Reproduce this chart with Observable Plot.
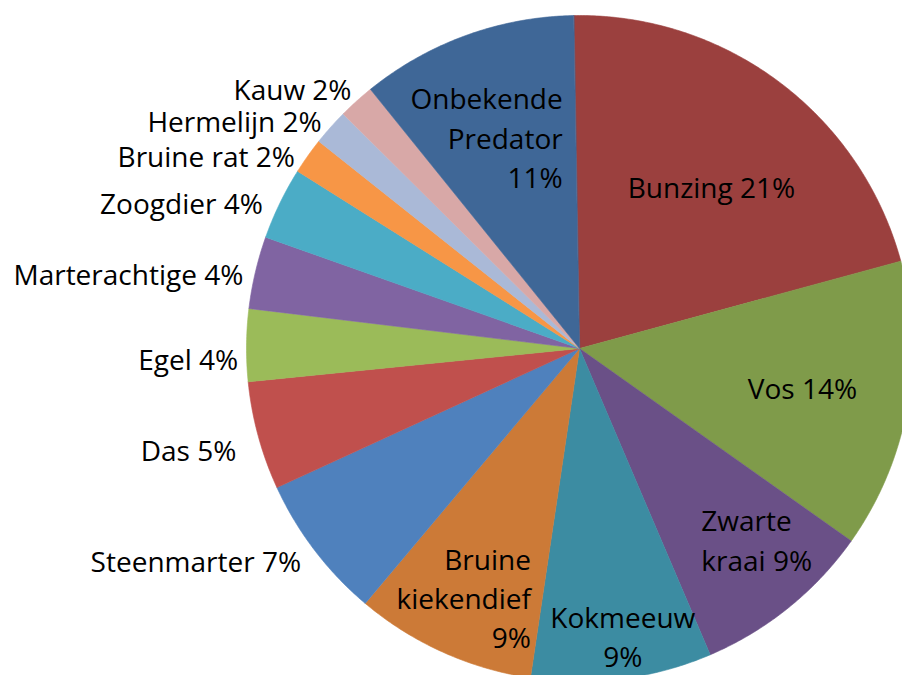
<!DOCTYPE html>
<html><head><meta charset="utf-8">
<script src="https://cdn.jsdelivr.net/npm/d3@7"></script>
<script src="https://cdn.jsdelivr.net/npm/@observablehq/plot@0.6"></script>
<style>html,body{margin:0;padding:0;background:#fff;overflow:hidden}svg{overflow:hidden;display:block}</style>
</head><body><div id="chart"></div>
<script>
// Data (clockwise from 12 o'clock)
const categories = ["Bunzing","Vos","Zwarte kraai","Kokmeeuw","Bruine kiekendief","Steenmarter","Das","Egel","Marterachtige","Zoogdier","Bruine rat","Hermelijn","Kauw","Onbekende Predator"];
const counts = [12,8,5,5,5,4,3,2,2,2,1,1,1,6];
const colors = ["#9B403E","#7F9B4A","#6A5087","#3C8CA2","#CC7A37","#4F81BD","#C0504D","#9BBB59","#8064A2","#4BACC6","#F79646","#AAB9D7","#D8A8A7","#3F6797"];

// Layout (style only)
const W = 902, H = 675, cx = 579, cy = 348, R = 333, rot = -1;
const layout = {
  "Bunzing":            {r: 0.62, anchor: "middle", dx: 8,  dy: 15, wrap: 0},
  "Vos":                {r: 0.68, anchor: "middle", dx: 0,  dy: 11, wrap: 0},
  "Zwarte kraai":       {r: 0.75, anchor: "start",  dx: -35, dy: 28, wrap: 1},
  "Kokmeeuw":           {r: 0.88, anchor: "middle", dx: 6,  dy: 28, wrap: 1},
  "Bruine kiekendief":  {r: 0.83, anchor: "end",    dx: 65, dy: 48, wrap: 2},
  "Steenmarter":        {r: 1.04, anchor: "end",    dx: -3, dy: 14, wrap: 0},
  "Das":                {r: 1.04, anchor: "end",    dx: -9, dy: 22, wrap: 0},
  "Egel":               {r: 1.04, anchor: "end",    dx: 5,  dy: 25, wrap: 0},
  "Marterachtige":      {r: 1.04, anchor: "end",    dx: 1,  dy: 16, wrap: 0},
  "Zoogdier":           {r: 1.04, anchor: "end",    dx: -5, dy: 16, wrap: 0},
  "Bruine rat":         {r: 1.04, anchor: "end",    dx: -2, dy: 19, wrap: 0},
  "Hermelijn":          {r: 1.04, anchor: "end",    dx: 1,  dy: 14, wrap: 0},
  "Kauw":               {r: 1.04, anchor: "end",    dx: 4,  dy: 9,  wrap: 0},
  "Onbekende Predator": {r: 0.5,  anchor: "end",    dx: 40, dy: -4, wrap: 2}
};

const total = d3.sum(counts);
const arcs = d3.pie().sort(null).value(d => d)
  .startAngle(rot * Math.PI / 180).endAngle((360 + rot) * Math.PI / 180)(counts);

const pts = [];
arcs.forEach((a, i) => {
  const name = categories[i];
  pts.push({name, x: cx, y: cy});
  const n = Math.max(2, Math.ceil((a.endAngle - a.startAngle) / (Math.PI / 360)));
  for (let k = 0; k <= n; k++) {
    const t = a.startAngle + (a.endAngle - a.startAngle) * k / n;
    pts.push({name, x: cx + R * Math.sin(t), y: cy - R * Math.cos(t)});
  }
});

const labels = arcs.map((a, i) => {
  const name = categories[i];
  const L = layout[name];
  const mid = (a.startAngle + a.endAngle) / 2;
  let text = name + " " + Math.round(counts[i] / total * 100) + "%";
  for (let b = 0; b < L.wrap; b++) text = text.replace(" ", "\n");
  return {
    text, anchor: L.anchor,
    x: cx + L.r * R * Math.sin(mid) + L.dx,
    y: cy - L.r * R * Math.cos(mid) + L.dy
  };
});

const chart = Plot.plot({
  width: W, height: H, margin: 0,
  x: {domain: [0, W], range: [0, W], axis: null},
  y: {domain: [0, H], range: [0, H], axis: null},
  color: {domain: categories, range: colors},
  style: {fontFamily: "'Open Sans', sans-serif", background: "#fff"},
  marks: [
    Plot.line(pts, {x: "x", y: "y", z: "name", fill: "name", stroke: "name", strokeWidth: 0.6, curve: "linear-closed"}),
    ...["start", "middle", "end"].map(a =>
      Plot.text(labels.filter(d => d.anchor === a), {
        x: "x", y: "y", text: "text", textAnchor: a, lineAnchor: "bottom",
        lineHeight: 1.41, fontSize: 28, fill: "#000", fontFamily: "'Open Sans', sans-serif"
      }))
  ]
});
document.getElementById("chart").appendChild(chart);
</script>
</body></html>
